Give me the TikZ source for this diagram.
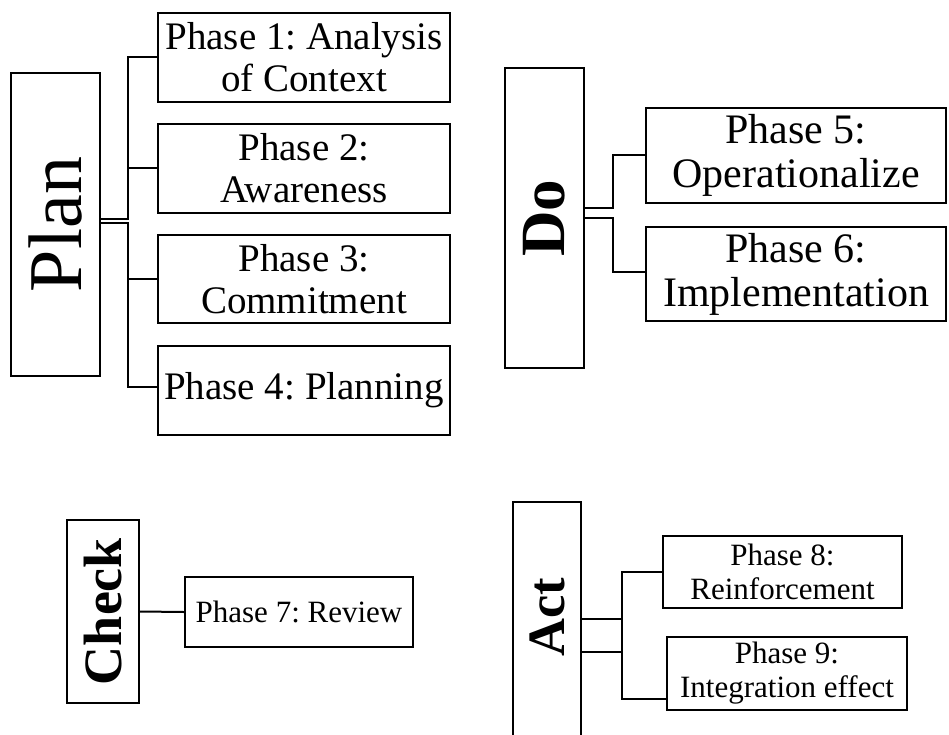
\documentclass[tikz,border=0pt]{standalone}
\usepackage{fontspec}
\setmainfont{Liberation Serif}
\usepackage{graphicx}
\frenchspacing
\begin{document}
\begin{tikzpicture}[x=1pt,y=-1pt,
  box/.style={draw,line width=2pt,inner sep=0pt,align=center,anchor=center},
  conn/.style={draw,line width=2pt},
  fA/.style={font=\fontsize{39}{42}\selectfont},
  fB/.style={font=\fontsize{42}{44}\selectfont},
  fC/.style={font=\fontsize{31}{34}\selectfont}]
\useasboundingbox (0,0) rectangle (949,735);
% Plan
\node[box,minimum width=89pt,minimum height=303pt] (plan) at (55.5,224.5)
  {\rotatebox{90}{\fontsize{76}{76}\selectfont Plan}};
\node[box,fA,minimum width=292pt,minimum height=89pt] (p1) at (304,57.5) {Phase 1: Analysis\\of Context};
\node[box,fA,minimum width=292pt,minimum height=89pt] (p2) at (304,168.5) {Phase 2:\\Awareness};
\node[box,fA,minimum width=292pt,minimum height=88pt] (p3) at (304,279) {Phase 3:\\Commitment};
\node[box,fA,minimum width=292pt,minimum height=89pt] (p4) at (304,390.5) {Phase 4: Planning};
\coordinate (tr) at (128,0);
\draw[conn] ([yshift=5pt]plan.east) -- ([yshift=5pt]plan.east -| tr) |- (p1.west);
\draw[conn] (tr |- p2.west) -- (p2.west);
\draw[conn] ([yshift=1pt]plan.east) -- ([yshift=1pt]plan.east -| tr) |- ([yshift=3.5pt]p4.west);
\draw[conn] (tr |- p3.west) -- (p3.west);
% Do
\node[box,minimum width=79pt,minimum height=300pt] (do) at (544.5,218)
  {\rotatebox{90}{\fontsize{63}{63}\selectfont\bfseries Do}};
\node[box,fB,minimum width=300pt,minimum height=95pt] (p5) at (796,155.5) {Phase 5:\\Operationalize};
\node[box,fB,minimum width=300pt,minimum height=94pt] (p6) at (796,274) {Phase 6:\\Implementation};
\coordinate (td) at (613,0);
\draw[conn] ([yshift=10pt]do.east) -- ([yshift=10pt]do.east -| td) |- (p5.west);
\draw[conn] (do.east) -- (do.east -| td) |- ([yshift=2pt]p6.west);
% Check
\node[box,minimum width=72pt,minimum height=183pt] (check) at (103,611.5)
  {\rotatebox{90}{\fontsize{54}{54}\selectfont\bfseries Check}};
\node[box,fC,minimum width=228pt,minimum height=70pt] (p7) at (299,612) {Phase 7: Review};
\draw[conn] (check.east) -- (p7.west);
% Act
\node[box,minimum width=68pt,minimum height=260pt] (act) at (547,632)
  {\rotatebox{90}{\fontsize{52.5}{52.5}\selectfont\bfseries\hspace*{30pt}Act}};
\node[box,fC,minimum width=239pt,minimum height=72pt] (p8) at (782.5,572) {Phase 8:\\Reinforcement};
\node[box,fC,minimum width=240pt,minimum height=73pt] (p9) at (787,673.5) {Phase 9:\\Integration effect};
\coordinate (ta) at (622,0);
\coordinate (p9in) at ([yshift=-25.5pt]p9.west);
\draw[conn] (p8.west) -| (ta |- p9in) -- (p9in);
\draw[conn] ([yshift=13pt]act.east) -- ([yshift=13pt]act.east -| ta);
\draw[conn] ([yshift=-20pt]act.east) -- ([yshift=-20pt]act.east -| ta);
\end{tikzpicture}
\end{document}
